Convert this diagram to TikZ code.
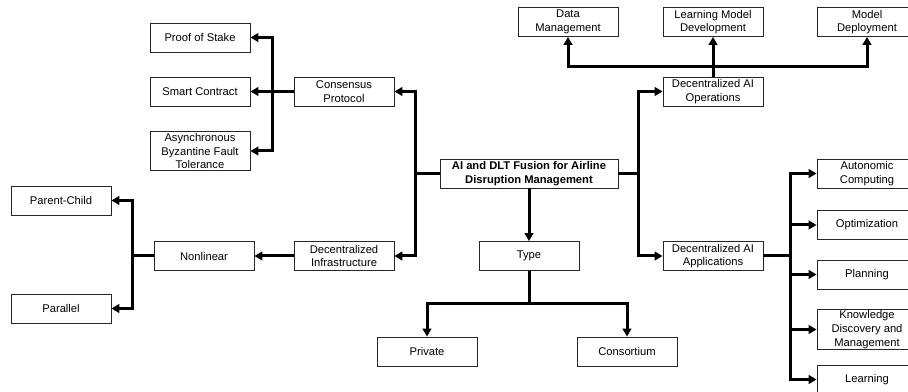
\documentclass[tikz,border=0pt]{standalone}
\usepackage{fontspec}
\setmainfont{Liberation Sans}
\usetikzlibrary{arrows.meta}

\begin{document}
\begin{tikzpicture}[x=0.75pt, y=-0.75pt, line width=2.25pt, -{Triangle[length=6pt, width=6.5pt]},
    main/.style = {rectangle, draw=black!85, line width=0.6pt, fill=white, minimum width=75pt, minimum height=21.75pt, inner sep=1pt, align=center, font=\fontsize{8.4}{10.3}\selectfont},
    root/.style = {main, minimum width=133.5pt, font=\fontsize{8.4}{10.3}\selectfont\bfseries}]
    \useasboundingbox (0,0) rectangle (908,392);
    \node[root] (fusion) at (529,173.5) {AI and DLT Fusion for Airline\\Disruption Management};
    \node[main] (cons) at (344,91.5) {Consensus\\Protocol};
    \node[main] (pos) at (200,37.5) {Proof of Stake};
    \node[main] (smart) at (200,91.5) {Smart Contract};
    \node[main] (abft) at (200,151) {Asynchronous\\Byzantine Fault\\Tolerance};
    \node[main] (infra) at (344,256) {Decentralized\\Infrastructure};
    \node[main] (nonlin) at (204,256) {Nonlinear};
    \node[main] (pchild) at (61,200.5) {Parent-Child};
    \node[main] (para) at (61,308.5) {Parallel};
    \node[main] (type) at (529,256) {Type};
    \node[main] (priv) at (427,351.5) {Private};
    \node[main] (consort) at (627,351.5) {Consortium};
    \node[main] (ops) at (713,91.5) {Decentralized AI\\Operations};
    \node[main] (data) at (568,22) {Data\\Management};
    \node[main] (lmd) at (713,22) {Learning Model\\Development};
    \node[main] (deploy) at (867,22) {Model\\Deployment};
    \node[main] (apps) at (713,256) {Decentralized AI\\Applications};
    \node[main] (auto) at (867,173.5) {Autonomic\\Computing};
    \node[main] (optim) at (867,225) {Optimization};
    \node[main] (plan) at (867,274.5) {Planning};
    \node[main] (know) at (867,329.5) {Knowledge\\Discovery and\\Management};
    \node[main] (learn) at (867,379.5) {Learning};

    \draw (fusion.west) -- ++(-24,0) |- (cons.east);
    \draw (fusion.west) -- ++(-24,0) |- (infra.east);
    \draw (cons.west) -- ++(-21,0) |- (pos.east);
    \draw (cons.west) -- (smart.east);
    \draw (cons.west) -- ++(-21,0) |- (abft.east);
    \draw (infra.west) -- (nonlin.east);
    \draw (nonlin.west) -- ++(-21,0) |- (pchild.east);
    \draw (nonlin.west) -- ++(-21,0) |- (para.east);
    \draw (fusion.south) -- (type.north);
    \draw (type.south) -- ++(0,33) -| (priv.north);
    \draw (type.south) -- ++(0,33) -| (consort.north);
    \draw (fusion.east) -- ++(20,0) |- (ops.west);
    \draw (fusion.east) -- ++(20,0) |- (apps.west);
    \draw (ops.north) -- ++(0,-10) -| (data.south);
    \draw (ops.north) -- (lmd.south);
    \draw (ops.north) -- ++(0,-10) -| (deploy.south);
    \draw (apps.east) -- ++(27,0) |- (auto.west);
    \draw (apps.east) -- ++(27,0) |- (optim.west);
    \draw (apps.east) -- ++(27,0) |- (plan.west);
    \draw (apps.east) -- ++(27,0) |- (know.west);
    \draw (apps.east) -- ++(27,0) |- (learn.west);
\end{tikzpicture}
\end{document}
